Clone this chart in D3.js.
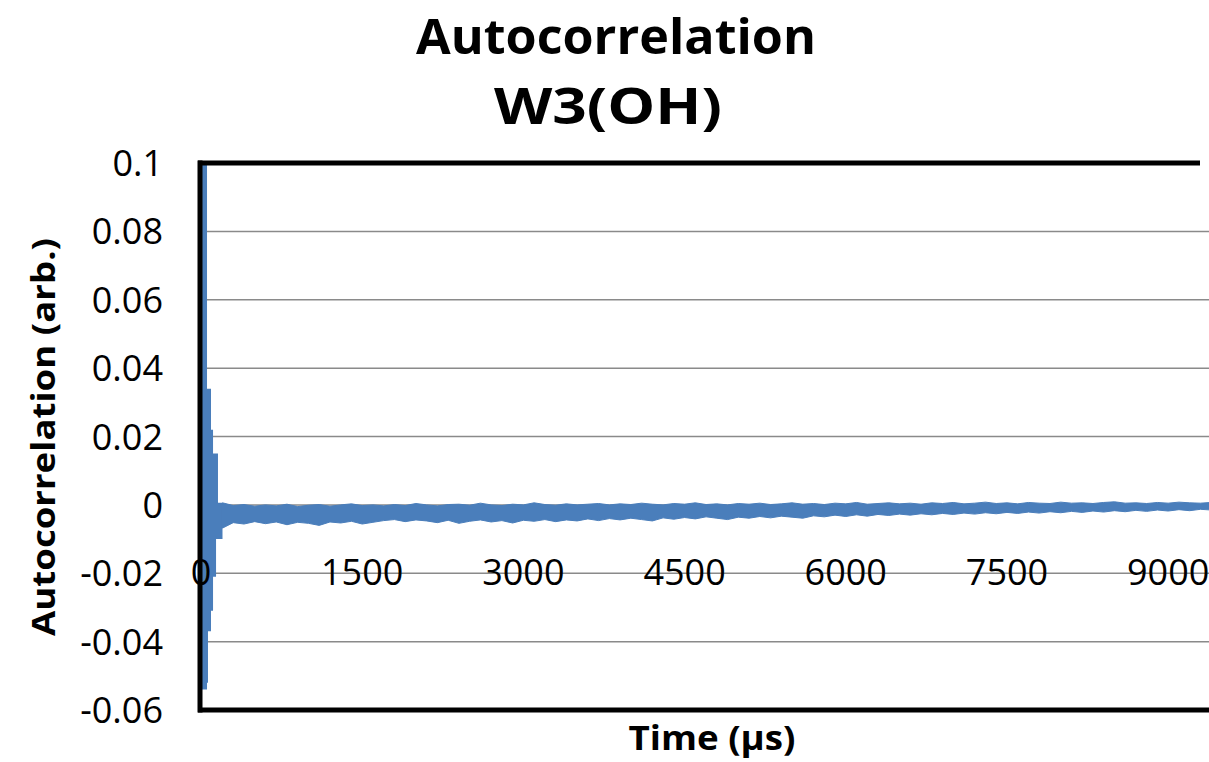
<!DOCTYPE html>
<html>
<head>
<meta charset="utf-8">
<script src="https://cdn.jsdelivr.net/npm/d3@7"></script>
<style>
  body { margin: 0; background: #fff; }
  text { font-family: "Open Sans", "Noto Sans", sans-serif; fill: #000; }
</style>
</head>
<body>
<div id="chart"></div>
<script>
const WIDTH = 1209;
const HEIGHT = 762;

// tick values / labels
const yTicks = [0.1, 0.08, 0.06, 0.04, 0.02, 0, -0.02, -0.04, -0.06];
const yTickLabels = ["0.1", "0.08", "0.06", "0.04", "0.02", "0", "-0.02", "-0.04", "-0.06"];
const xTicks = [0, 1500, 3000, 4500, 6000, 7500, 9000];

// first ~200 us: decaying oscillation, read as envelope steps (time in us)
const earlyTime = [0, 56, 65, 93, 112, 140, 158, 200];
const earlyHigh = [0.100, 0.034, 0.034, 0.022, 0.015, 0.015, 0.0006, 0.0006];
const earlyLow = [-0.054, -0.052, -0.037, -0.031, -0.021, -0.010, -0.010, -0.0068];

// rest of the trace: noisy band, upper and lower edge
const bandTime = [200, 300, 400, 500, 600, 700, 800, 900, 1000, 1100, 1200, 1300, 1400, 1500,
  1600, 1700, 1800, 1900, 2000, 2100, 2200, 2300, 2400, 2500, 2600, 2700, 2800, 2900, 3000,
  3100, 3200, 3300, 3400, 3500, 3600, 3700, 3800, 3900, 4000, 4100, 4200, 4300, 4400, 4500,
  4600, 4700, 4800, 4900, 5000, 5100, 5200, 5300, 5400, 5500, 5600, 5700, 5800, 5900, 6000,
  6100, 6200, 6300, 6400, 6500, 6600, 6700, 6800, 6900, 7000, 7100, 7200, 7300, 7400, 7500,
  7600, 7700, 7800, 7900, 8000, 8100, 8200, 8300, 8400, 8500, 8600, 8700, 8800, 8900, 9000,
  9100, 9200, 9300, 9400];
const bandHigh = [0.0006, -0.0002, 0.0001, -0.0004, 0.0000, -0.0003, 0.0002, -0.0005, -0.0001, 0.0001,
  -0.0004, 0.0000, 0.0003, -0.0002, 0.0000, -0.0003, 0.0001, -0.0002, 0.0004, 0.0000,
  -0.0003, 0.0001, 0.0002, -0.0001, 0.0005, 0.0000, -0.0002, 0.0002, 0.0000, 0.0006,
  0.0001, -0.0001, 0.0003, 0.0000, 0.0002, 0.0004, 0.0000, 0.0003, 0.0001, 0.0005,
  0.0002, 0.0000, 0.0004, 0.0002, 0.0006, 0.0001, 0.0003, 0.0000, 0.0004, 0.0002,
  0.0005, 0.0001, 0.0003, 0.0006, 0.0002, 0.0004, 0.0001, 0.0005, 0.0003, 0.0007,
  0.0002, 0.0004, 0.0006, 0.0003, 0.0005, 0.0002, 0.0006, 0.0004, 0.0007, 0.0003,
  0.0005, 0.0008, 0.0004, 0.0006, 0.0003, 0.0007, 0.0005, 0.0004, 0.0008, 0.0005,
  0.0006, 0.0004, 0.0007, 0.0009, 0.0005, 0.0006, 0.0004, 0.0007, 0.0005, 0.0008,
  0.0006, 0.0005, 0.0007];
const bandLow = [-0.0068, -0.0052, -0.0056, -0.0049, -0.0055, -0.0050, -0.0058, -0.0051, -0.0054, -0.0060,
  -0.0050, -0.0053, -0.0048, -0.0056, -0.0051, -0.0046, -0.0043, -0.0049, -0.0044, -0.0047,
  -0.0052, -0.0045, -0.0054, -0.0048, -0.0044, -0.0050, -0.0046, -0.0053, -0.0045, -0.0048,
  -0.0043, -0.0049, -0.0044, -0.0047, -0.0041, -0.0046, -0.0040, -0.0044, -0.0039, -0.0043,
  -0.0047, -0.0038, -0.0042, -0.0037, -0.0041, -0.0035, -0.0039, -0.0043, -0.0036, -0.0039,
  -0.0034, -0.0038, -0.0033, -0.0036, -0.0039, -0.0032, -0.0035, -0.0030, -0.0034, -0.0029,
  -0.0033, -0.0028, -0.0031, -0.0027, -0.0030, -0.0026, -0.0029, -0.0025, -0.0028, -0.0024,
  -0.0027, -0.0023, -0.0026, -0.0022, -0.0025, -0.0021, -0.0024, -0.0020, -0.0023, -0.0019,
  -0.0022, -0.0018, -0.0021, -0.0017, -0.0020, -0.0016, -0.0019, -0.0015, -0.0018, -0.0014,
  -0.0017, -0.0013, -0.0015];

const SERIES_COLOR = "#4a7ebb";

const svg = d3.select("#chart").append("svg")
    .attr("width", WIDTH)
    .attr("height", HEIGHT);

svg.append("rect").attr("width", WIDTH).attr("height", HEIGHT).attr("fill", "#fff");

const x = d3.scaleLinear().domain([0, 9380]).range([201, 1209]);
const y = d3.scaleLinear().domain([-0.06, 0.1]).range([710, 163]);

// gridlines
svg.append("g")
    .selectAll("line")
    .data(yTicks.filter(v => v !== 0.1 && v !== -0.06))
    .enter().append("line")
    .attr("x1", x.range()[0])
    .attr("x2", x.range()[1])
    .attr("y1", d => y(d))
    .attr("y2", d => y(d))
    .attr("stroke", "#8a8a8a")
    .attr("stroke-width", 1.5);

// series
svg.append("clipPath").attr("id", "plotClip")
    .append("rect")
    .attr("x", x.range()[0]).attr("y", y.range()[1])
    .attr("width", x.range()[1] - x.range()[0])
    .attr("height", y.range()[0] - y.range()[1]);

const earlyData = earlyTime.map((t, i) => ({ t, hi: earlyHigh[i], lo: earlyLow[i] }));
const bandData = bandTime.map((t, i) => ({ t, hi: bandHigh[i], lo: bandLow[i] }));

const plot = svg.append("g").attr("clip-path", "url(#plotClip)");

plot.append("path")
    .datum(earlyData)
    .attr("fill", SERIES_COLOR)
    .attr("d", d3.area()
        .curve(d3.curveStepAfter)
        .x(d => x(d.t))
        .y0(d => y(d.lo))
        .y1(d => y(d.hi)));

plot.append("path")
    .datum(bandData)
    .attr("fill", SERIES_COLOR)
    .attr("stroke", SERIES_COLOR)
    .attr("stroke-width", 1)
    .attr("d", d3.area()
        .x(d => x(d.t))
        .y0(d => y(d.lo))
        .y1(d => y(d.hi)));

// plot borders (left, top, bottom)
svg.append("line")
    .attr("x1", 200).attr("x2", 200)
    .attr("y1", y(0.1) - 2.5).attr("y2", y(-0.06) + 2.5)
    .attr("stroke", "#000").attr("stroke-width", 5);
svg.append("line")
    .attr("x1", 198).attr("x2", 1200)
    .attr("y1", y(0.1)).attr("y2", y(0.1))
    .attr("stroke", "#000").attr("stroke-width", 5);
svg.append("line")
    .attr("x1", 198).attr("x2", 1209)
    .attr("y1", y(-0.06)).attr("y2", y(-0.06))
    .attr("stroke", "#000").attr("stroke-width", 5);

// y tick labels
svg.append("g")
    .selectAll("text")
    .data(yTicks)
    .enter().append("text")
    .attr("x", 163)
    .attr("y", d => y(d) + 13)
    .attr("text-anchor", "end")
    .style("font-size", "36px")
    .text((d, i) => yTickLabels[i]);

// x tick labels sit on the -0.02 gridline
svg.append("g")
    .selectAll("text")
    .data(xTicks)
    .enter().append("text")
    .attr("x", d => x(d))
    .attr("y", y(-0.02) + 12)
    .attr("text-anchor", "middle")
    .style("font-size", "36px")
    .text(d => d);

// titles
svg.append("text")
    .attr("x", 616).attr("y", 54)
    .attr("text-anchor", "middle")
    .attr("textLength", 400).attr("lengthAdjust", "spacingAndGlyphs")
    .style("font-size", "48px").style("font-weight", "bold")
    .text("Autocorrelation");

svg.append("text")
    .attr("x", 608).attr("y", 124)
    .attr("text-anchor", "middle")
    .attr("textLength", 228).attr("lengthAdjust", "spacingAndGlyphs")
    .style("font-size", "50px").style("font-weight", "bold")
    .text("W3(OH)");

svg.append("text")
    .attr("x", 712).attr("y", 750)
    .attr("text-anchor", "middle")
    .attr("textLength", 167).attr("lengthAdjust", "spacingAndGlyphs")
    .style("font-size", "34px").style("font-weight", "bold")
    .text("Time (µs)");

svg.append("text")
    .attr("transform", "translate(55,437) rotate(-90)")
    .attr("text-anchor", "middle")
    .attr("textLength", 398).attr("lengthAdjust", "spacingAndGlyphs")
    .style("font-size", "33px").style("font-weight", "bold")
    .text("Autocorrelation (arb.)");
</script>
</body>
</html>
